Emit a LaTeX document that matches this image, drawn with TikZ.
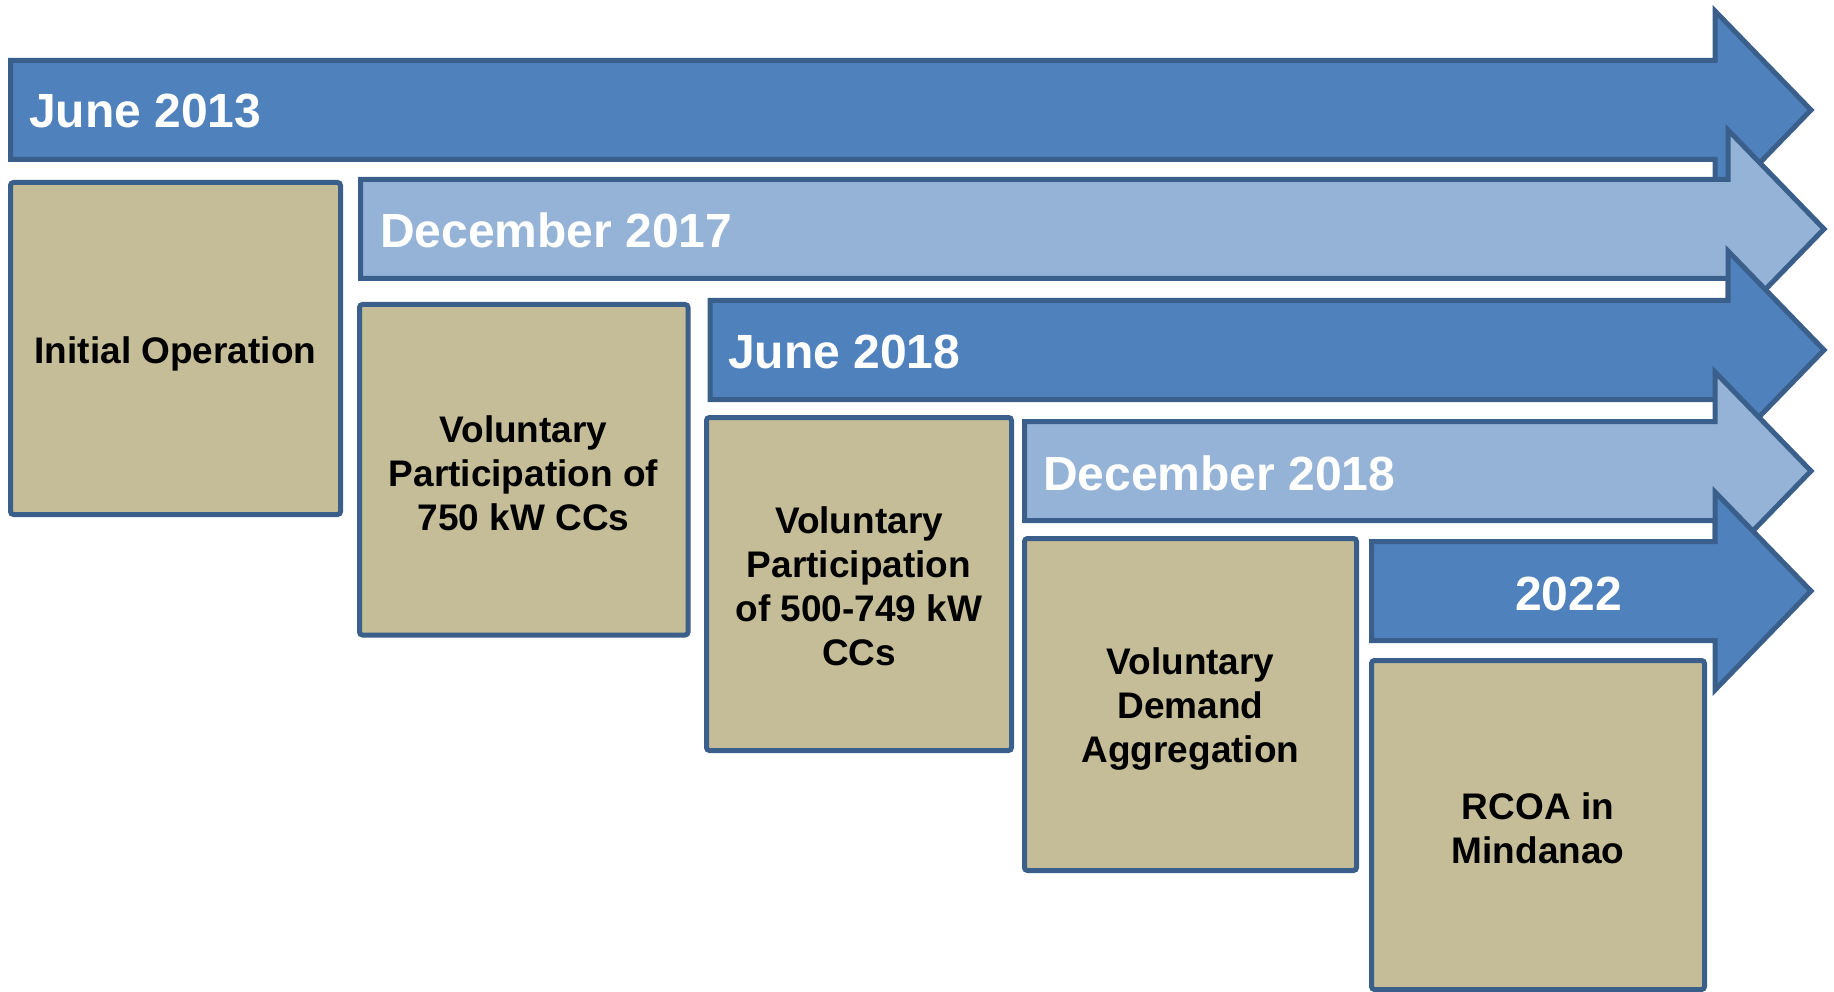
\documentclass[tikz,border=0pt]{standalone}
\usepackage{fontspec}
\setmainfont{Liberation Sans}
\definecolor{edge}{RGB}{58,95,139}
\definecolor{darkarrow}{RGB}{79,129,189}
\definecolor{lightarrow}{RGB}{149,179,215}
\definecolor{tan}{RGB}{196,189,151}
\tikzset{
  arrowshape/.style={draw=edge, line width=5pt, line join=miter},
  stagebox/.style={draw=edge, fill=tan, line width=5pt, rounded corners=3pt},
  datelabel/.style={text=white, font=\fontsize{48}{54}\selectfont\bfseries, inner sep=0pt, anchor=base west},
  stagetext/.style={text=black, font=\fontsize{37}{44}\selectfont\bfseries, align=center, inner sep=0pt}
}
% #1 fill, #2 left x, #3 centre y, #4 notch x, #5 tip x
\newcommand{\timearrow}[5]{%
  \draw[arrowshape, fill=#1] (#2,#3-49.5) -- (#4,#3-49.5) -- (#4,#3-99) -- (#5,#3)
    -- (#4,#3+99) -- (#4,#3+49.5) -- (#2,#3+49.5) -- cycle;}
\begin{document}
\begin{tikzpicture}[x=1pt,y=-1pt]
\useasboundingbox (0,0) rectangle (1834,992);
% June 2013
\timearrow{darkarrow}{10.5}{110}{1715}{1811}
\node[datelabel] (d1) at (29,128) {June 2013};
\draw[stagebox] (10.5,182.5) rectangle (340.5,514.5);
\node[stagetext] (s1) at (175.5,354) {Initial Operation};
% December 2017
\timearrow{lightarrow}{360.5}{229}{1728}{1824}
\node[datelabel] (d2) at (380,248) {December 2017};
\draw[stagebox] (359.5,304.5) rectangle (688,635);
\node[stagetext] (s2) at (523.5,473) {Voluntary\\Participation of\\750 kW CCs};
% June 2018
\timearrow{darkarrow}{710}{350}{1728}{1824}
\node[datelabel] (d3) at (728,368) {June 2018};
\draw[stagebox] (706.5,417.5) rectangle (1011.5,750.5);
\node[stagetext] (s3) at (859,586) {Voluntary\\Participation\\of 500-749 kW\\CCs};
% December 2018
\timearrow{lightarrow}{1024.5}{471}{1715}{1811}
\node[datelabel] (d4) at (1043,490) {December 2018};
\draw[stagebox] (1024.5,538.5) rectangle (1356.5,870.5);
\node[stagetext] (s4) at (1190.5,709) {Voluntary\\Demand\\Aggregation};
% 2022
\timearrow{darkarrow}{1371.5}{591}{1715}{1811}
\node[datelabel] (d5) at (1515,610) {2022};
\draw[stagebox] (1371.5,660.5) rectangle (1704.5,989.5);
\node[stagetext] (s5) at (1538,828) {RCOA in\\Mindanao};
\end{tikzpicture}
\end{document}
